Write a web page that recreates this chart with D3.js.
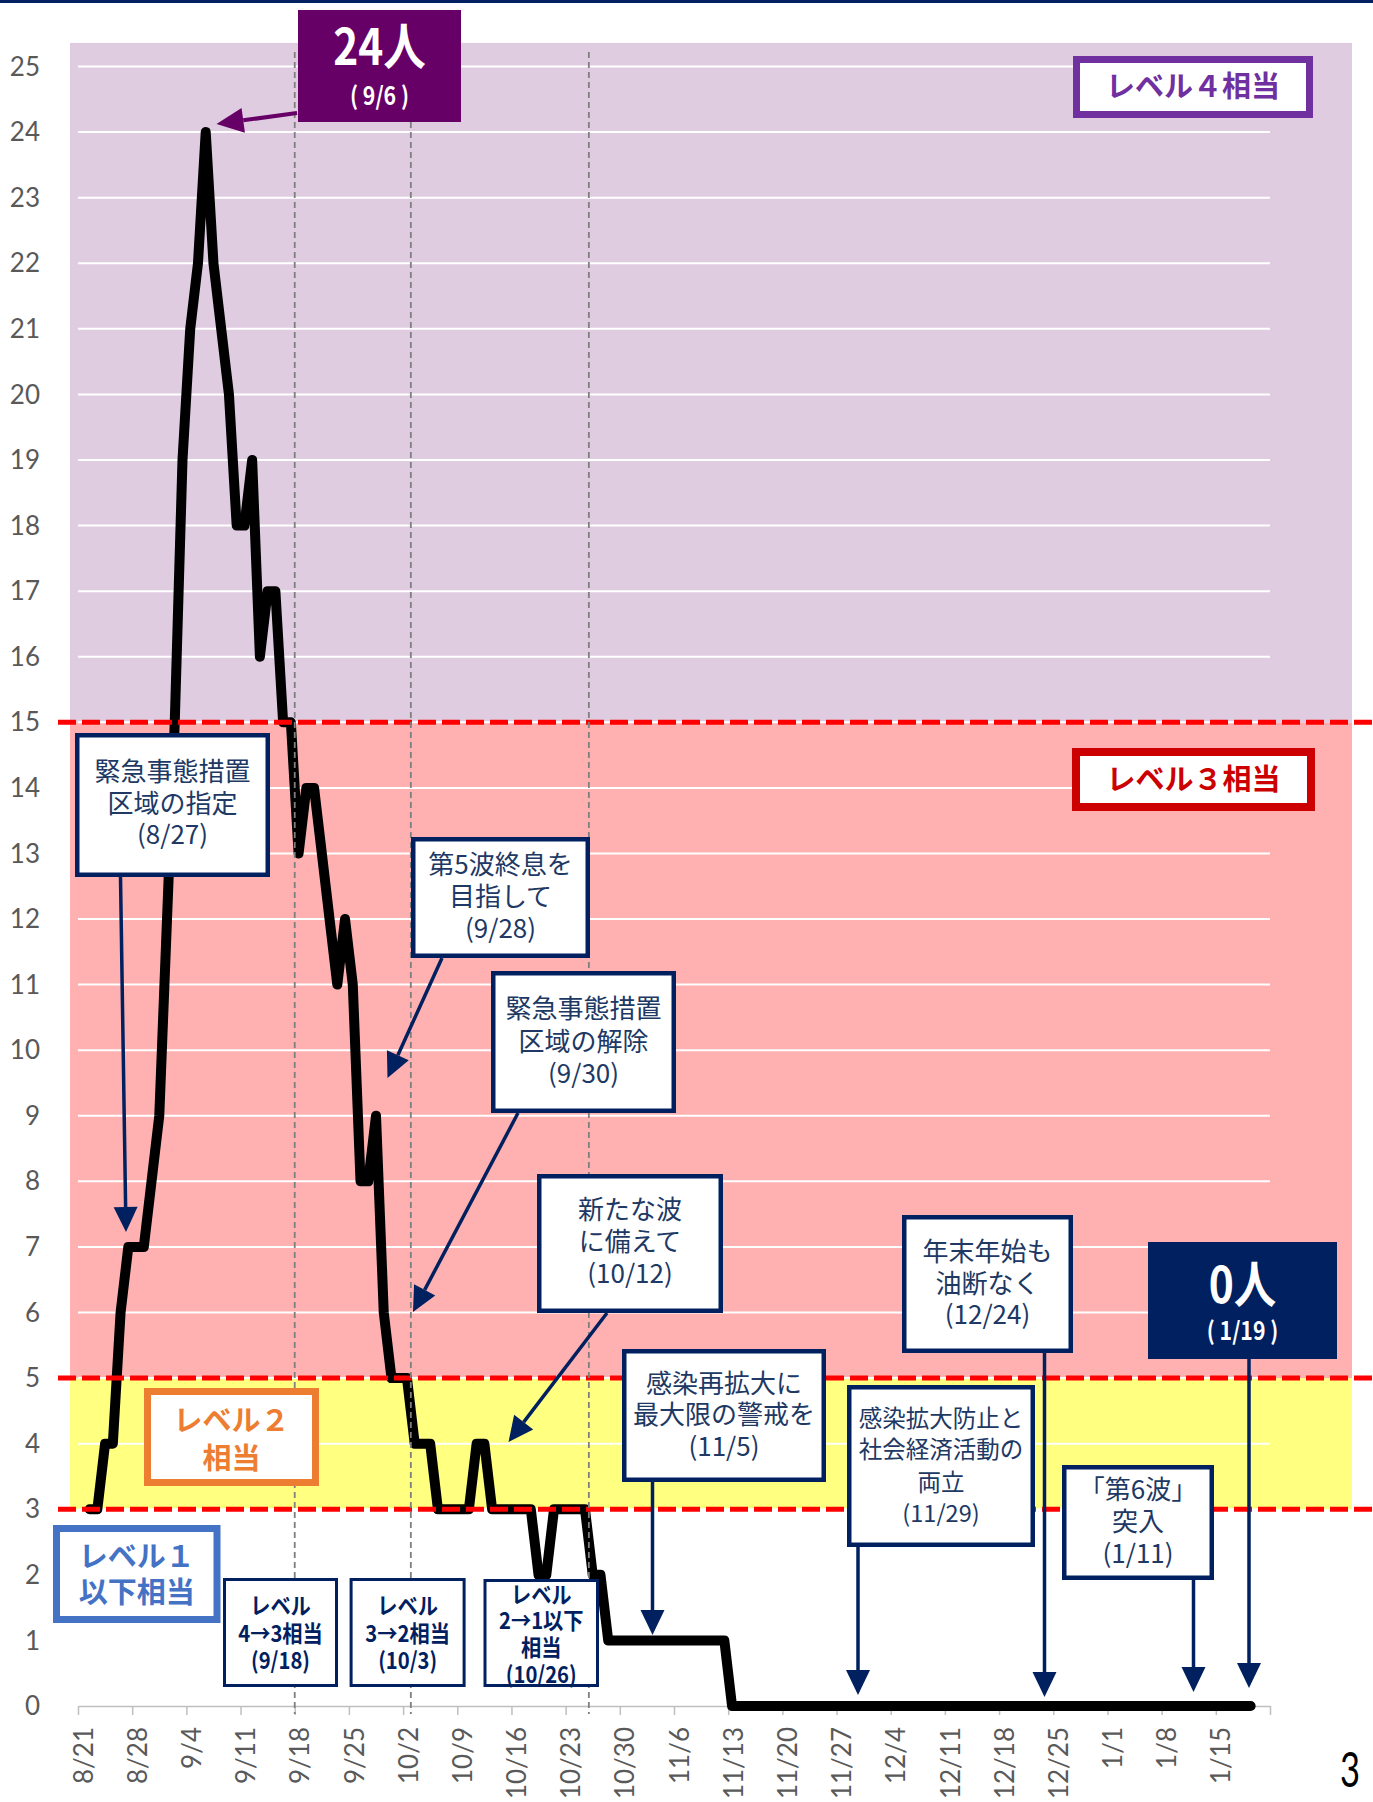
<!DOCTYPE html>
<html>
<head>
<meta charset="utf-8">
<script src="https://cdn.jsdelivr.net/npm/d3@7"></script>
<style>
  html, body { margin: 0; padding: 0; background: #fff; }
  svg { display: block; }
</style>
</head>
<body>
<svg id="chart" width="1373" height="1802"></svg>
<script>
(function () {
  // ---- data -------------------------------------------------------
  const AXIS_START = '2021-08-21';
  const AXIS_END = '2022-01-22';
  const FIRST_VALUE_DATE = '2021-08-22';

  const TICK_LABELS = ['8/21', '8/28', '9/4', '9/11', '9/18', '9/25', '10/2', '10/9',
    '10/16', '10/23', '10/30', '11/6', '11/13', '11/20', '11/27', '12/4', '12/11',
    '12/18', '12/25', '1/1', '1/8', '1/15', ''];

  const Y_TICKS = [0, 1, 2, 3, 4, 5, 6, 7, 8, 9, 10, 11, 12, 13, 14, 15, 16, 17, 18, 19, 20, 21, 22, 23, 24, 25];

  // daily values from 8/22 to 1/19
  const VALUES = [
    3, 3, 4, 4, 6, 7, 7, 7, 8, 9,
    12, 15, 19, 21, 22, 24, 22, 21, 20, 18,
    18, 19, 16, 17, 17, 15, 15, 13, 14, 14,
    13, 12, 11, 12, 11, 8, 8, 9, 6, 5,
    5, 5, 4, 4, 4, 3, 3, 3, 3, 3,
    4, 4, 3, 3, 3, 3, 3, 3, 2, 2,
    3, 3, 3, 3, 3, 2, 2, 1, 1, 1,
    1, 1, 1, 1, 1, 1, 1, 1, 1, 1,
    1, 1, 1, 0, 0, 0, 0, 0, 0, 0,
    0, 0, 0, 0, 0, 0, 0, 0, 0, 0,
    0, 0, 0, 0, 0, 0, 0, 0, 0, 0,
    0, 0, 0, 0, 0, 0, 0, 0, 0, 0,
    0, 0, 0, 0, 0, 0, 0, 0, 0, 0,
    0, 0, 0, 0, 0, 0, 0, 0, 0, 0,
    0, 0, 0, 0, 0, 0, 0, 0, 0, 0,
    0
  ];

  const LEVEL_LINES = [3, 5, 15];
  const BAND_TOP = 25.36;
  const LEVEL_CHANGE_DATES = ['2021-09-18', '2021-10-03', '2021-10-26'];

  // ---- setup ------------------------------------------------------
  const W = 1373;
  const JP = '"Noto Sans CJK JP", "Noto Sans", sans-serif';
  const NUM = 'Lato, "Open Sans", sans-serif';
  const NAVY = '#002060';
  const NAVY_TEXT = '#203864';

  const svg = d3.select('#chart');
  const parse = d3.utcParse('%Y-%m-%d');
  const axisStart = parse(AXIS_START);
  const axisEnd = parse(AXIS_END);
  const firstDate = parse(FIRST_VALUE_DATE);

  const x = d3.scaleUtc().domain([axisStart, axisEnd]).range([78, 1270]);
  const y = d3.scaleLinear().domain([0, 25]).range([1706, 66.5]);
  const mid = function (d) { return d3.utcHour.offset(d, 12); };

  const series = VALUES.map(function (v, k) {
    return { date: d3.utcDay.offset(firstDate, k), value: v };
  });

  // top rule
  svg.append('rect').attr('x', 0).attr('y', 0).attr('width', W).attr('height', 3).attr('fill', NAVY);

  // ---- level bands ------------------------------------------------
  const bands = [
    { lo: LEVEL_LINES[0], hi: LEVEL_LINES[1], color: '#ffff80' },
    { lo: LEVEL_LINES[1], hi: LEVEL_LINES[2], color: '#ffb1b1' },
    { lo: LEVEL_LINES[2], hi: BAND_TOP, color: '#dfcce1' }
  ];
  svg.append('g').selectAll('rect')
    .data(bands)
    .join('rect')
    .attr('x', 70)
    .attr('width', 1352 - 70)
    .attr('y', function (d) { return y(d.hi); })
    .attr('height', function (d) { return y(d.lo) - y(d.hi); })
    .attr('fill', function (d) { return d.color; });

  // gridlines
  svg.append('g').selectAll('line')
    .data(Y_TICKS.filter(function (v) { return v > 0; }))
    .join('line')
    .attr('x1', x.range()[0]).attr('x2', x.range()[1])
    .attr('y1', function (d) { return y(d); })
    .attr('y2', function (d) { return y(d); })
    .attr('stroke', '#ffffff')
    .attr('stroke-width', 2);

  // ---- axes -------------------------------------------------------
  const tickDates = TICK_LABELS.map(function (_, i) { return d3.utcDay.offset(axisStart, i * 7); });
  const xAxis = d3.axisBottom(x)
    .tickValues(tickDates)
    .tickSize(9)
    .tickSizeOuter(0)
    .tickFormat(function (d, i) { return TICK_LABELS[i]; });

  const gx = svg.append('g').attr('transform', 'translate(0,' + y(0) + ')').call(xAxis);
  gx.select('.domain').attr('stroke', '#bfbfbf').attr('stroke-width', 1.5);
  gx.selectAll('.tick line').attr('stroke', '#bfbfbf').attr('stroke-width', 1.5);
  gx.selectAll('.tick text')
    .attr('font-family', NUM)
    .attr('font-size', 26)
    .attr('fill', '#595959')
    .attr('text-anchor', 'end')
    .attr('y', 0)
    .attr('dy', '0.35em')
    .attr('transform', 'translate(5,21) rotate(-90)');

  svg.append('g').selectAll('text')
    .data(Y_TICKS)
    .join('text')
    .attr('x', 40)
    .attr('y', function (d) { return y(d); })
    .attr('dy', '0.35em')
    .attr('text-anchor', 'end')
    .attr('font-family', NUM)
    .attr('font-size', 26)
    .attr('fill', '#595959')
    .text(function (d) { return d; });

  // ---- series -----------------------------------------------------
  const line = d3.line()
    .x(function (d) { return x(mid(d.date)); })
    .y(function (d) { return y(d.value); });

  svg.append('path')
    .datum(series)
    .attr('d', line)
    .attr('fill', 'none')
    .attr('stroke', '#000')
    .attr('stroke-width', 10)
    .attr('stroke-linejoin', 'round')
    .attr('stroke-linecap', 'round');

  // red level lines
  svg.append('g').selectAll('line')
    .data(LEVEL_LINES)
    .join('line')
    .attr('x1', 58).attr('x2', W)
    .attr('y1', function (d) { return y(d); })
    .attr('y2', function (d) { return y(d); })
    .attr('stroke', '#ff0000')
    .attr('stroke-width', 5)
    .attr('stroke-dasharray', '18 6');

  // grey dashed lines at level changes
  svg.append('g').selectAll('line')
    .data(LEVEL_CHANGE_DATES.map(parse))
    .join('line')
    .attr('x1', function (d) { return x(d); })
    .attr('x2', function (d) { return x(d); })
    .attr('y1', 52).attr('y2', 1714)
    .attr('stroke', '#7f7f7f')
    .attr('stroke-width', 1.8)
    .attr('stroke-dasharray', '6 4');

  // ---- annotation helpers -----------------------------------------
  const ann = svg.append('g');

  function box(b, fill, stroke, sw) {
    ann.append('rect')
      .attr('x', b[0] + sw / 2).attr('y', b[1] + sw / 2)
      .attr('width', b[2] - b[0] - sw).attr('height', b[3] - b[1] - sw)
      .attr('fill', fill)
      .attr('stroke', stroke)
      .attr('stroke-width', sw);
  }

  // one <text> per box, one <tspan> per line; sizes may differ per line
  function lines(cx, texts, ys, size, color, weight, sx) {
    var t = ann.append('text')
      .attr('transform', 'translate(' + cx + ',0) scale(' + (sx || 1) + ',1)')
      .attr('text-anchor', 'middle')
      .attr('font-family', JP)
      .attr('font-weight', weight || 400)
      .attr('fill', color);
    texts.forEach(function (s, i) {
      var fs = Array.isArray(size) ? size[i] : size;
      t.append('tspan')
        .attr('x', 0)
        .attr('y', ys[i])
        .attr('dy', '0.36em')
        .attr('font-size', fs)
        .text(s);
    });
  }

  function arrow(a, color, lw, hl, hw) {
    var dx = a[2] - a[0], dy = a[3] - a[1];
    var len = Math.sqrt(dx * dx + dy * dy);
    var ux = dx / len, uy = dy / len;
    var bx = a[2] - ux * hl, by = a[3] - uy * hl;
    ann.append('line')
      .attr('x1', a[0]).attr('y1', a[1]).attr('x2', bx).attr('y2', by)
      .attr('stroke', color).attr('stroke-width', lw);
    var px = -uy * hw / 2, py = ux * hw / 2;
    ann.append('path')
      .attr('d', 'M' + a[2] + ',' + a[3] + 'L' + (bx + px) + ',' + (by + py) + 'L' + (bx - px) + ',' + (by - py) + 'Z')
      .attr('fill', color);
  }

  // ---- level labels -----------------------------------------------
  box([1073, 56, 1313, 118], '#fff', '#7030a0', 7);
  lines(1193, ['レベル４相当'], [87], 29, '#7030a0', 700);

  box([1072, 748, 1315, 811], '#fff', '#cc0000', 8);
  lines(1193.5, ['レベル３相当'], [779.5], 29, '#cc0000', 700);

  box([144, 1388, 319, 1486], '#fff', '#ed7d31', 7);
  lines(231.5, ['レベル２', '相当'], [1421, 1459], 29, '#ed7d31', 700);

  box([53, 1525, 220.5, 1623], '#fff', '#4472c4', 7);
  lines(136.7, ['レベル１', '以下相当'], [1557, 1593], 29, '#4472c4', 700);

  // level change boxes
  const CHANGES = [
    { b: [223, 1578, 338, 1687], t: ['レベル', '4→3相当', '(9/18)'], ys: [1606, 1634, 1661] },
    { b: [349.6, 1578, 465.6, 1687], t: ['レベル', '3→2相当', '(10/3)'], ys: [1606, 1634, 1661] },
    { b: [483.5, 1579, 599, 1687], t: ['レベル', '2→1以下', '相当', '(10/26)'], ys: [1595, 1621, 1648, 1675] }
  ];
  CHANGES.forEach(function (c) {
    box(c.b, '#fff', NAVY, 3);
    lines((c.b[0] + c.b[2]) / 2, c.t, c.ys, 23, NAVY, 700, 0.88);
  });

  // ---- event notes ------------------------------------------------
  const NOTES = [
    { b: [75, 733, 270, 877], t: ['緊急事態措置', '区域の指定', '(8/27)'], ys: [771.7, 804, 835], fs: 26, a: [120.5, 877, 126, 1232] },
    { b: [411, 837, 590, 958], t: ['第5波終息を', '目指して', '(9/28)'], ys: [865, 896.7, 928.3], fs: 26, a: [442, 958, 387.5, 1078] },
    { b: [491, 971, 676, 1113], t: ['緊急事態措置', '区域の解除', '(9/30)'], ys: [1008.3, 1041.7, 1073.3], fs: 26, a: [518, 1113, 413, 1312] },
    { b: [537, 1174, 723, 1313], t: ['新たな波', 'に備えて', '(10/12)'], ys: [1210, 1241.7, 1274], fs: 26, a: [607, 1313, 508.5, 1442] },
    { b: [622, 1349, 826, 1482], t: ['感染再拡大に', '最大限の警戒を', '(11/5)'], ys: [1383.3, 1415, 1446.7], fs: 26, a: [652.5, 1482, 652.5, 1635] },
    { b: [847, 1385, 1035, 1547], t: ['感染拡大防止と', '社会経済活動の', '両立', '(11/29)'], ys: [1418.3, 1450, 1482.3, 1514], fs: 23.5, a: [858, 1547, 858, 1695] },
    { b: [902, 1215, 1073, 1353], t: ['年末年始も', '油断なく', '(12/24)'], ys: [1251.7, 1283.3, 1315], fs: 26, a: [1044.5, 1353, 1044.5, 1697] },
    { b: [1062, 1465, 1214, 1580], t: ['「第6波」', '突入', '(1/11)'], ys: [1490, 1521.7, 1553.3], fs: 26, a: [1193.5, 1580, 1193.5, 1692] }
  ];
  NOTES.forEach(function (n) {
    box(n.b, '#fff', NAVY, 4.5);
    lines((n.b[0] + n.b[2]) / 2, n.t, n.ys, n.fs, NAVY_TEXT, 400);
    arrow(n.a, NAVY, 3.5, 25, 24);
  });

  // peak and latest callouts
  box([298, 10, 461, 122], '#660066', '#660066', 1);
  lines(379.5, ['24人', '( 9/6 )'], [47, 96], [50, 25], '#fff', 700, 0.85);
  arrow([297, 113, 216.5, 124], '#660066', 4, 27, 25);

  box([1148, 1242, 1337, 1359], NAVY, NAVY, 1);
  lines(1242.5, ['0人', '( 1/19 )'], [1285, 1331], [50, 25], '#fff', 700, 0.85);
  arrow([1249, 1359, 1249, 1688], NAVY, 3.5, 25, 24);

  // page number
  svg.append('text')
    .attr('transform', 'translate(1350,1787) scale(0.72,1)')
    .attr('text-anchor', 'middle')
    .attr('font-family', NUM)
    .attr('font-size', 48)
    .attr('fill', '#000')
    .text('3');
})();
</script>
</body>
</html>
